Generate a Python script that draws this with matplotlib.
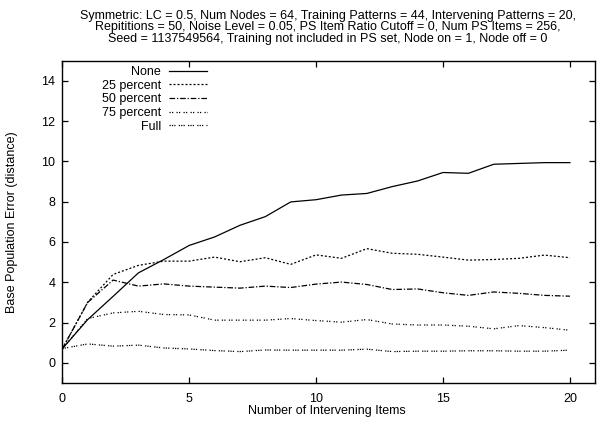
"""Base population error vs number of intervening items (gnuplot-style line chart)."""

import matplotlib

matplotlib.use("Agg")
import matplotlib.pyplot as plt

# x positions (number of intervening items)
items = list(range(21))

# one series per legend entry
none_err = [0.70, 2.15, 3.30, 4.47, 5.13, 5.83, 6.25, 6.83, 7.26, 7.99, 8.10,
            8.33, 8.41, 8.75, 9.03, 9.45, 9.41, 9.86, 9.90, 9.94, 9.94]
pct25_err = [0.70, 3.01, 4.39, 4.84, 5.05, 5.05, 5.25, 5.02, 5.22, 4.89, 5.36,
             5.19, 5.67, 5.44, 5.39, 5.25, 5.10, 5.13, 5.19, 5.35, 5.22]
pct50_err = [0.70, 3.00, 4.11, 3.81, 3.92, 3.81, 3.76, 3.71, 3.81, 3.74, 3.91,
             4.01, 3.89, 3.64, 3.67, 3.48, 3.35, 3.52, 3.45, 3.35, 3.31]
pct75_err = [0.70, 2.20, 2.48, 2.56, 2.40, 2.38, 2.12, 2.12, 2.12, 2.20, 2.10,
             2.02, 2.15, 1.93, 1.88, 1.88, 1.82, 1.69, 1.85, 1.75, 1.62]
full_err = [0.71, 0.94, 0.83, 0.88, 0.74, 0.69, 0.61, 0.56, 0.64, 0.63, 0.63,
            0.63, 0.68, 0.56, 0.58, 0.58, 0.60, 0.60, 0.58, 0.58, 0.63]

series_labels = ["None", "25 percent", "50 percent", "75 percent", "Full"]

TITLE = (
    "Symmetric: LC = 0.5, Num Nodes = 64, Training Patterns = 44, Intervening Patterns = 20,\n"
    "Repititions = 50, Noise Level = 0.05, PS Item Ratio Cutoff = 0, Num PS Items = 256,\n"
    "Seed = 1137549564, Training not included in PS set, Node on = 1, Node off = 0"
)

# gnuplot-like dash patterns
LINESTYLES = [
    "-",
    (0, (1.6, 1.6)),
    (0, (4.5, 1.5, 1.0, 1.5)),
    (0, (1.0, 1.0, 1.0, 2.6)),
    (0, (1.0, 0.9, 1.0, 0.9, 1.0, 2.6)),
]

plt.rcParams.update({
    "font.family": ["Liberation Sans", "DejaVu Sans"],
    "font.size": 9,
    "axes.linewidth": 1.0,
})

fig = plt.figure(figsize=(6.01, 4.32), dpi=100)
ax = fig.add_axes([0.1037, 0.1134, 0.8868, 0.7461])

all_series = [none_err, pct25_err, pct50_err, pct75_err, full_err]
for values, label, ls in zip(all_series, series_labels, LINESTYLES):
    ax.plot(items, values, color="black", linewidth=0.9, linestyle=ls, label=label)

ax.set_xlim(0, 21)
ax.set_ylim(-1, 15)
ax.set_xticks([0, 5, 10, 15, 20])
ax.set_yticks(range(0, 15, 2))
ax.tick_params(direction="in", length=4.5, width=0.9, top=True, right=True,
               labelsize=9)
ax.tick_params(axis="x", pad=7)
ax.tick_params(axis="y", pad=5)

ax.set_xlabel("Number of Intervening Items", fontsize=9)
ax.set_ylabel("Base Population Error (distance)", fontsize=9)
ax.xaxis.set_label_coords(0.496, -0.068)
ax.yaxis.set_label_coords(-0.083, 0.5)

fig.text(0.546, 0.978, TITLE, ha="center", va="top", fontsize=9,
         linespacing=0.95)

# markerfirst=False puts the sample after the text and right-aligns the labels
leg = ax.legend(
    loc="upper left",
    bbox_to_anchor=(0.074, 0.983),
    borderaxespad=0,
    borderpad=0,
    frameon=False,
    markerfirst=False,
    handlelength=3.1,
    handletextpad=0.6,
    labelspacing=0.13,
    fontsize=9,
)
for line in leg.get_lines():
    line.set_linewidth(0.9)

fig.savefig("out.png", dpi=100, facecolor="white")
